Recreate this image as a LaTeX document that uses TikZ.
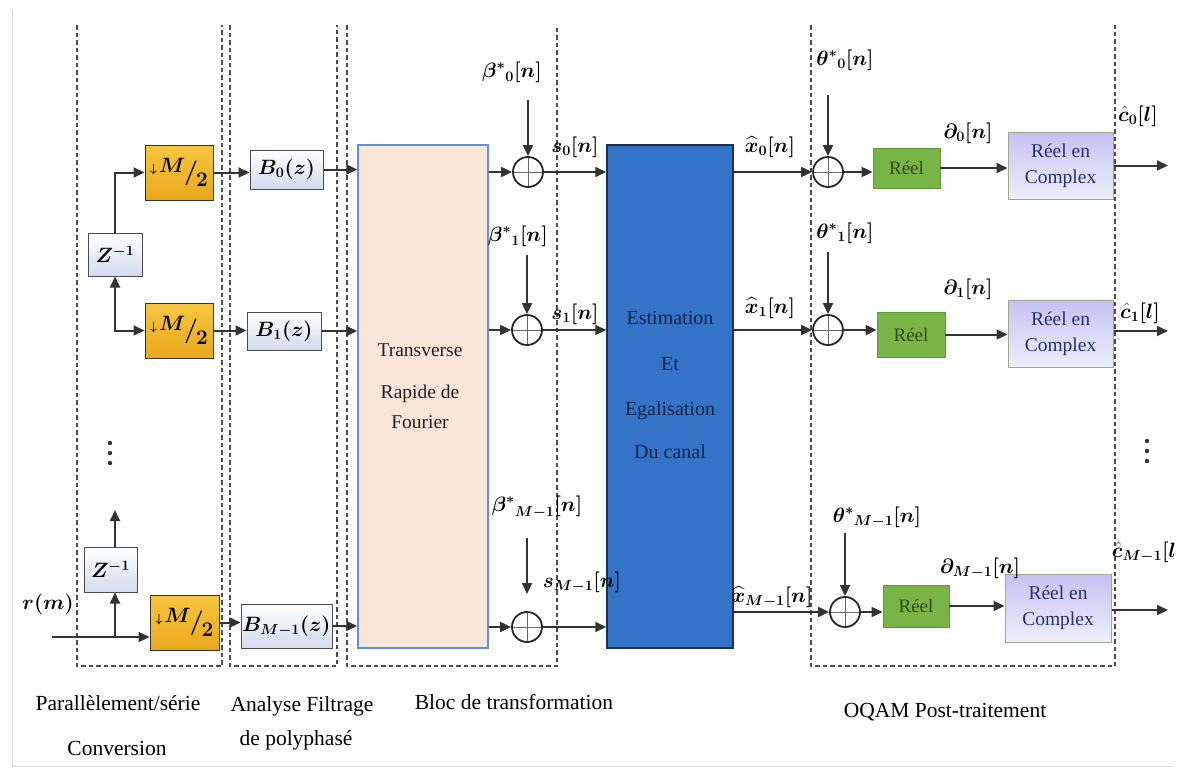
\documentclass[tikz,border=0pt]{standalone}
\usepackage{amsmath,bm}
\usepackage{fontspec}
\setmainfont{Liberation Serif}
\usetikzlibrary{arrows.meta,calc}
\definecolor{gold}{HTML}{F6C640}
\definecolor{goldd}{HTML}{E9A81E}
\definecolor{bblue}{HTML}{D3DCEE}
\definecolor{peach}{HTML}{FAE6D9}
\definecolor{fftb}{HTML}{5C93D8}
\definecolor{estb}{HTML}{3473C6}
\definecolor{estd}{HTML}{1D2F52}
\definecolor{esttxt}{HTML}{13254B}
\definecolor{reel}{HTML}{79B446}
\definecolor{reeld}{HTML}{5E9835}
\definecolor{reeltxt}{HTML}{2E4A1C}
\definecolor{lavt}{HTML}{C4C1F2}
\definecolor{lavb}{HTML}{EEEFFB}
\definecolor{lavd}{HTML}{9CA98E}
\definecolor{lavtxt}{HTML}{2A2E6A}
\newcommand{\mhalf}{\raisebox{7pt}{\fontsize{12}{12}\selectfont$\bm{\downarrow}$\,\fontsize{20}{20}\selectfont$\bm{M}$}\hspace{-1pt}{\fontsize{30}{30}\selectfont$\bm{/}$}\hspace{-2pt}\raisebox{-7pt}{\fontsize{20}{20}\selectfont$\bm{2}$}}
\begin{document}
\begin{tikzpicture}[x=1pt,y=-1pt,
  line/.style={draw=black!80, line width=2pt},
  arr/.style={line, -{Triangle[length=11pt,width=10pt]}},
  darr/.style={line, {Triangle[length=11pt,width=10pt]}-{Triangle[length=11pt,width=10pt]}},
  sep/.style={draw=black!70, line width=1.4pt, dash pattern=on 4.5pt off 3pt},
  dmbox/.style={draw=black!80, line width=1pt, top color=gold, bottom color=goldd, inner sep=0pt, minimum width=68pt, minimum height=55pt},
  bbox/.style={draw=black!70, line width=1pt, top color=white, bottom color=bblue, inner sep=0pt, font=\fontsize{20}{24}\selectfont},
  reelbox/.style={draw=reeld, line width=0.8pt, fill=reel, inner sep=0pt, text=reeltxt, font=\fontsize{19}{22}\selectfont},
  rcbox/.style={draw=lavd, line width=1pt, top color=lavt, bottom color=lavb, inner sep=0pt, text=lavtxt, align=center, font=\fontsize{19.5}{26}\selectfont, minimum width=105pt, minimum height=67pt},
  oplus/.style={circle, draw=black!85, line width=1.8pt, minimum size=30pt, inner sep=0pt,
    path picture={\draw[line width=0.9pt, black!60] (path picture bounding box.north) -- (path picture bounding box.south) (path picture bounding box.west) -- (path picture bounding box.east);}},
  lab/.style={inner sep=0pt, font=\fontsize{20}{24}\selectfont},
  dotc/.style={fill=black!80},
  blab/.style={inner sep=0pt, font=\fontsize{21.5}{26}\selectfont},
  ffttxt/.style={text=black!88, font=\fontsize{19.5}{24}\selectfont},
  esttx/.style={text=esttxt, font=\fontsize{20}{24}\selectfont}
]
\useasboundingbox (0,0) rectangle (1179,772);
\fill[white] (0,0) rectangle (1179,772);
\draw[gray!30, line width=1pt] (12,10) -- (12,766) -- (1172,766);

% group frames
\draw[sep] (77,25) -- (77,666) -- (222,666) -- (222,25);
\draw[sep] (230,25) -- (230,666) -- (337,666) -- (337,25);
\draw[sep] (347,25) -- (347,666) -- (557,666) -- (557,25);
\draw[sep] (811,25) -- (811,666) -- (1115,666) -- (1115,25);

% blocks
\node[dmbox] (dm0) at (179,172.5) {\mhalf};
\node[dmbox] (dm1) at (179,330.5) {\mhalf};
\node[dmbox, minimum width=69pt] (dm2) at (184.5,622.5) {\mhalf};
\node[bbox, minimum width=54pt, minimum height=43pt] (z1) at (115,254.5) {$\bm{Z^{-1}}$};
\node[bbox, minimum width=53pt, minimum height=45pt] (z2) at (110.5,569.5) {$\bm{Z^{-1}}$};
\node[bbox, minimum width=73pt, minimum height=39pt] (b0) at (286.5,169.5) {$\bm{B_0(z)}$};
\node[bbox, minimum width=74pt, minimum height=38pt] (b1) at (284,331) {$\bm{B_1(z)}$};
\node[bbox, minimum width=91pt, minimum height=44pt] (b2) at (286.5,626) {$\bm{B_{M-1}(z)}$};
\node[draw=fftb, line width=1.5pt, fill=peach, minimum width=130pt, minimum height=503pt, inner sep=0pt] (fft) at (423,396.5) {};
\node[ffttxt] (fftt1) at (420,350) {Transverse};
\node[ffttxt] (fftt2) at (420,394) {Rapide de};
\node[ffttxt] (fftt3) at (420,422) {Fourier};
\node[draw=estd, line width=1.5pt, fill=estb, minimum width=126pt, minimum height=503pt, inner sep=0pt] (est) at (670,396.5) {};
\node[esttx] (estt1) at (670,318) {Estimation};
\node[esttx] (estt2) at (670,364) {Et};
\node[esttx] (estt3) at (670,411) {Egalisation};
\node[esttx] (estt4) at (670,452) {Du canal};

\node[oplus] (p0) at (528,172) {};
\node[oplus] (p1) at (527,330) {};
\node[oplus] (p2) at (527,627) {};
\node[oplus] (q0) at (828,172) {};
\node[oplus] (q1) at (828,330) {};
\node[oplus] (q2) at (845,612) {};

\node[reelbox, minimum width=67pt, minimum height=40pt] (r0) at (906.5,168) {Réel};
\node[reelbox, minimum width=68pt, minimum height=45pt] (r1) at (911,334.5) {Réel};
\node[reelbox, minimum width=66pt, minimum height=42pt] (r2) at (916,606) {Réel};
\node[rcbox] (c0) at (1060.5,165.5) {Réel en\\Complex};
\node[rcbox] (c1) at (1060.5,333.5) {Réel en\\Complex};
\node[rcbox, minimum width=106pt, minimum height=68pt] (c2) at (1058,608) {Réel en\\Complex};

% free ends
\coordinate (rin) at (52,637);
\coordinate (br) at (115,637);
\coordinate (zup) at (115,510);
\coordinate (bt0) at (528,100);
\coordinate (bt1) at (527,255);
\coordinate (bt2) at (527,538);
\coordinate (bt2e) at (527,594);
\coordinate (th0) at (828,95);
\coordinate (th1) at (828,252);
\coordinate (th2) at (845,533);
\coordinate (o0) at (1168,165.5);
\coordinate (o1) at (1168,331);
\coordinate (o2) at (1168,610);

% connectors: serial/parallel
\draw[arr] (z1.north) |- (dm0.west);
\draw[darr] (z1.south) |- (dm1.west);
\draw[arr] (rin) -- (rin -| dm2.west);
\draw[arr] (br) -- (br |- z2.south);
\draw[arr] (br |- z2.north) -- (zup);
\draw[arr] (dm0.east) -- (dm0.east -| b0.west);
\draw[arr] (dm1.east) -- (dm1.east -| b1.west);
\draw[arr] (dm2.east) -- (dm2.east -| b2.west);
\draw[arr] (b0.east) -- (b0.east -| fft.west);
\draw[arr] (b1.east) -- (b1.east -| fft.west);
\draw[arr] (b2.east) -- (b2.east -| fft.west);
% FFT to adders
\draw[arr] (p0 -| fft.east) -- (p0.west);
\draw[arr] (p1 -| fft.east) -- (p1.west);
\draw[arr] (p2 -| fft.east) -- (p2.west);
\draw[arr] (bt0) -- (p0.north);
\draw[arr] (bt1) -- (p1.north);
\draw[arr] (bt2) -- (bt2e);
\draw[arr] (p0.east) -- (p0.east -| est.west);
\draw[arr] (p1.east) -- (p1.east -| est.west);
\draw[arr] (p2.east) -- (p2.east -| est.west);
% estimation to OQAM
\draw[arr] (q0 -| est.east) -- (q0.west);
\draw[arr] (q1 -| est.east) -- (q1.west);
\draw[arr] (q2 -| est.east) -- (q2.west);
\draw[arr] (th0) -- (q0.north);
\draw[arr] (th1) -- (q1.north);
\draw[arr] (th2) -- (q2.north);
\draw[arr] (q0.east) -- (q0.east -| r0.west);
\draw[arr] (q1.east) -- (q1.east -| r1.west);
\draw[arr] (q2.east) -- (q2.east -| r2.west);
\draw[arr] (r0.east) -- (r0.east -| c0.west);
\draw[arr] (r1.east) -- (r1.east -| c1.west);
\draw[arr] (r2.east) -- (r2.east -| c2.west);
\draw[arr] (c0.east) -- (o0);
\draw[arr] (c1.east |- o1) -- (o1);
\draw[arr] (c2.east |- o2) -- (o2);

% vertical ellipses
\foreach \yy in {443,453,463} {
  \fill[dotc] (110,\yy) circle (2.2pt);
  \fill[dotc] (1147,\yy-2) circle (2.2pt);
}

% labels
\node[lab] (lr) at (48,604) {$\bm{r(m)}$};
\node[lab] (lb0) at (512,72) {$\bm{{\beta^{*}}_{0}[n]}$};
\node[lab] (lb1) at (518,236) {$\bm{{\beta^{*}}_{1}[n]}$};
\node[lab] (lb2) at (537,507) {$\bm{{\beta^{*}}_{M-1}[n]}$};
\node[lab] (ls0) at (575,147) {$\bm{s_0[n]}$};
\node[lab] (ls1) at (575,314) {$\bm{s_1[n]}$};
\node[lab] (ls2) at (582,582) {$\bm{s_{M-1}[n]}$};
\node[lab] (lx0) at (770,147) {$\bm{\widehat{x}_0[n]}$};
\node[lab] (lx1) at (770,308) {$\bm{\widehat{x}_1[n]}$};
\node[lab] (lx2) at (772,597) {$\bm{\widehat{x}_{M-1}[n]}$};
\node[lab] (lt0) at (845,60) {$\bm{{\theta^{*}}_{0}[n]}$};
\node[lab] (lt1) at (845,233) {$\bm{{\theta^{*}}_{1}[n]}$};
\node[lab] (lt2) at (877,517) {$\bm{{\theta^{*}}_{M-1}[n]}$};
\node[lab] (ld0) at (968,133) {$\bm{\partial_0[n]}$};
\node[lab] (ld1) at (968,289) {$\bm{\partial_1[n]}$};
\node[lab] (ld2) at (980,568) {$\bm{\partial_{M-1}[n]}$};
\node[lab] (lc0) at (1138,116) {$\bm{\hat{c}_0[l]}$};
\node[lab] (lc1) at (1140,313) {$\bm{\hat{c}_1[l]}$};
\node[lab] (lc2) at (1144,552) {$\bm{\hat{c}_{M-1}[l}$};

% section captions
\node[blab] (cap1) at (118,703) {Parallèlement/série};
\node[blab] (cap1b) at (117,748) {Conversion};
\node[blab] (cap2) at (302,706) {Analyse Filtrage};
\node[blab] (cap2b) at (296,740) {de polyphasé};
\node[blab] (cap3) at (514,702) {Bloc de transformation};
\node[blab] (cap4) at (945,712) {OQAM Post-traitement};
\end{tikzpicture}
\end{document}
